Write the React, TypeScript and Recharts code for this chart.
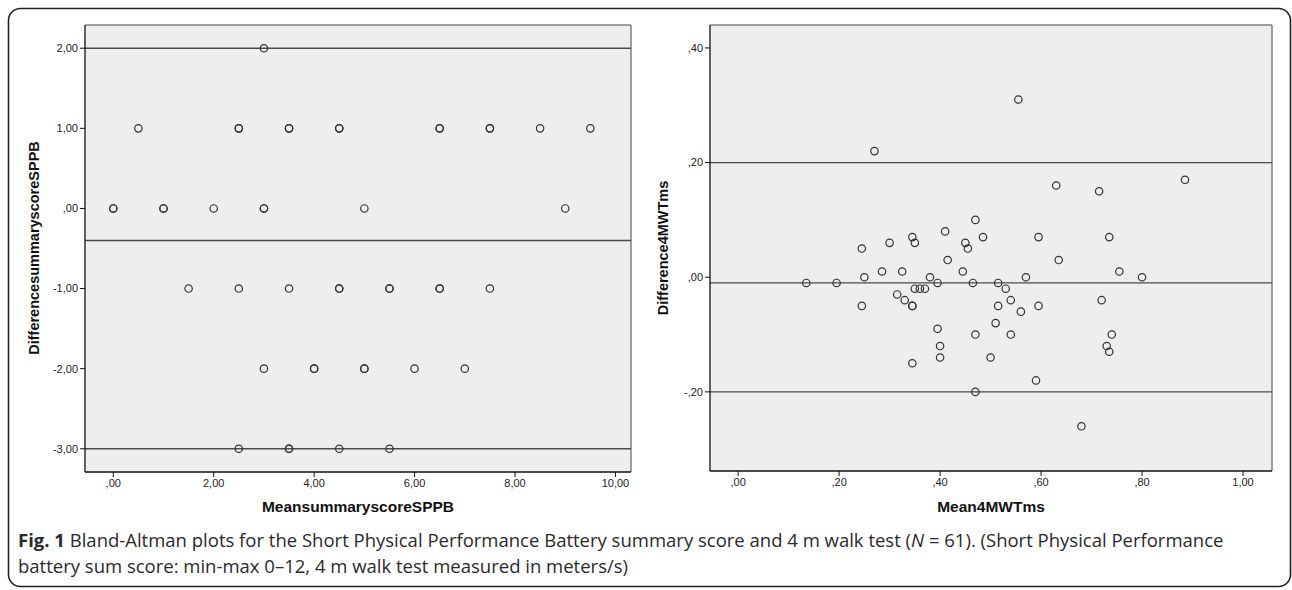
import React from "react";
import { ScatterChart, Scatter, XAxis, YAxis, CartesianGrid, ReferenceLine } from "recharts";

// ---- Left panel: SPPB summary score ----
const sppbMean = [
  3,
  0.5, 2.5, 2.5, 3.5, 3.5, 4.5, 4.5, 6.5, 6.5, 7.5, 7.5, 8.5, 9.5,
  0, 0, 1, 1, 2, 3, 3, 5, 9,
  1.5, 2.5, 3.5, 4.5, 4.5, 5.5, 5.5, 6.5, 6.5, 7.5,
  3, 4, 4, 5, 5, 6, 7,
  2.5, 3.5, 3.5, 4.5, 5.5,
];
const sppbDiff = [
  2,
  1, 1, 1, 1, 1, 1, 1, 1, 1, 1, 1, 1, 1,
  0, 0, 0, 0, 0, 0, 0, 0, 0,
  -1, -1, -1, -1, -1, -1, -1, -1, -1, -1,
  -2, -2, -2, -2, -2, -2, -2,
  -3, -3, -3, -3, -3,
];
const sppbLines = [2, -0.4, -3];
const sppbXTicks = [0, 2, 4, 6, 8, 10];
const sppbXLabels = [",00", "2,00", "4,00", "6,00", "8,00", "10,00"];
const sppbYTicks = [2, 1, 0, -1, -2, -3];
const sppbYLabels = ["2,00", "1,00", ",00", "-1,00", "-2,00", "-3,00"];
const sppbXDomain = [-0.563, 10.31];
const sppbYDomain = [-3.29, 2.29];

// ---- Right panel: 4 m walk test ----
const walkMean = [
  0.47, 0.41, 0.345, 0.485, 0.595, 0.735, 0.3, 0.35, 0.45, 0.245, 0.455, 0.415, 0.635,
  0.285, 0.325, 0.445, 0.755, 0.25, 0.38, 0.57, 0.8, 0.135, 0.195, 0.395, 0.465, 0.515,
  0.35, 0.36, 0.37, 0.53, 0.315, 0.33, 0.54, 0.72, 0.245, 0.345, 0.345, 0.515, 0.595,
  0.56, 0.51, 0.395, 0.47, 0.54, 0.74, 0.4, 0.73, 0.735, 0.4, 0.5, 0.345, 0.59, 0.47,
  0.555, 0.27, 0.63, 0.715, 0.885, 0.68,
];
const walkDiff = [
  0.1, 0.08, 0.07, 0.07, 0.07, 0.07, 0.06, 0.06, 0.06, 0.05, 0.05, 0.03, 0.03,
  0.01, 0.01, 0.01, 0.01, 0, 0, 0, 0, -0.01, -0.01, -0.01, -0.01, -0.01,
  -0.02, -0.02, -0.02, -0.02, -0.03, -0.04, -0.04, -0.04, -0.05, -0.05, -0.05, -0.05, -0.05,
  -0.06, -0.08, -0.09, -0.1, -0.1, -0.1, -0.12, -0.12, -0.13, -0.14, -0.14, -0.15, -0.18, -0.2,
  0.31, 0.22, 0.16, 0.15, 0.17, -0.26,
];
const walkLines = [0.2, -0.01, -0.2];
const walkXTicks = [0, 0.2, 0.4, 0.6, 0.8, 1];
const walkXLabels = [",00", ",20", ",40", ",60", ",80", "1,00"];
const walkYTicks = [0.4, 0.2, 0, -0.2];
const walkYLabels = [",40", ",20", ",00", "-,20"];
const walkXDomain = [-0.0557, 1.0574];
const walkYDomain = [-0.338, 0.44];

const captionBold = "Fig. 1";
const captionLine1a = " Bland-Altman plots for the Short Physical Performance Battery summary score and 4 m walk test (";
const captionLine1b = "N";
const captionLine1c = " = 61). (Short Physical Performance";
const captionLine2 = "battery sum score: min-max 0\u201312, 4 m walk test measured in meters/s)";

const sppbData = sppbMean.map((m, i) => ({ x: m, y: sppbDiff[i] }));
const walkData = walkMean.map((m, i) => ({ x: m, y: walkDiff[i] }));

const AXIS_FONT = "'Liberation Sans', Arial, sans-serif";

const Dot = (p: any) => (
  <circle cx={p.cx} cy={p.cy} r={3.7} fill="none" stroke="#333" strokeWidth={1.2} />
);

function Panel(props: {
  data: { x: number; y: number }[];
  width: number;
  height: number;
  margin: any;
  xDomain: number[];
  yDomain: number[];
  xTicks: number[];
  xLabels: string[];
  yTicks: number[];
  yLabels: string[];
  lines: number[];
}) {
  const { data, xDomain, yDomain, xTicks, xLabels, yTicks, yLabels, lines } = props;
  const tickStyle = { fontSize: 11, fill: "#222", fontFamily: AXIS_FONT };
  return (
    <ScatterChart width={props.width} height={props.height} margin={props.margin}>
      <CartesianGrid horizontal={false} vertical={false} fill="#eeeeee" />
      <XAxis
        type="number"
        dataKey="x"
        domain={xDomain}
        ticks={xTicks}
        allowDataOverflow
        height={30}
        tickSize={5}
        tick={tickStyle}
        tickFormatter={(v: number) => xLabels[xTicks.indexOf(v)]}
        axisLine={{ stroke: "#111", strokeWidth: 1.3 }}
        tickLine={{ stroke: "#111" }}
      />
      <YAxis
        type="number"
        dataKey="y"
        domain={yDomain}
        ticks={yTicks}
        allowDataOverflow
        width={60}
        tickSize={5}
        tick={tickStyle}
        tickFormatter={(v: number) => yLabels[yTicks.indexOf(v)]}
        axisLine={{ stroke: "#111", strokeWidth: 1.3 }}
        tickLine={{ stroke: "#111" }}
      />
      <ReferenceLine y={yDomain[1]} stroke="#808080" strokeWidth={1.5} ifOverflow="extendDomain" />
      <ReferenceLine x={xDomain[1]} stroke="#808080" strokeWidth={1.5} ifOverflow="extendDomain" />
      {lines.map((v) => (
        <ReferenceLine key={v} y={v} stroke="#4a4a4a" strokeWidth={1.3} />
      ))}
      <Scatter data={data} shape={Dot} isAnimationActive={false} />
    </ScatterChart>
  );
}

export default function App() {
  return (
    <div style={{ position: "absolute", left: 0, top: 0, width: 1292, height: 590, background: "#fff" }}>
      <svg width={1292} height={590} style={{ position: "absolute", left: 0, top: 0 }}>
        <rect x={8.5} y={8.5} width={1282} height={578} rx={12} ry={12} fill="none" stroke="#222" strokeWidth={1.6} />
      </svg>
      <div style={{ position: "absolute", left: 0, top: 0 }}>
        <Panel
          data={sppbData}
          width={660}
          height={530}
          margin={{ top: 25, right: 29, bottom: 28, left: 25 }}
          xDomain={sppbXDomain}
          yDomain={sppbYDomain}
          xTicks={sppbXTicks}
          xLabels={sppbXLabels}
          yTicks={sppbYTicks}
          yLabels={sppbYLabels}
          lines={sppbLines}
        />
      </div>
      <div style={{ position: "absolute", left: 640, top: 0 }}>
        <Panel
          data={walkData}
          width={652}
          height={530}
          margin={{ top: 25, right: 20, bottom: 29, left: 10 }}
          xDomain={walkXDomain}
          yDomain={walkYDomain}
          xTicks={walkXTicks}
          xLabels={walkXLabels}
          yTicks={walkYTicks}
          yLabels={walkYLabels}
          lines={walkLines}
        />
      </div>
      <svg width={1292} height={590} style={{ position: "absolute", left: 0, top: 0, pointerEvents: "none" }}>
        <g fontFamily={AXIS_FONT} fontWeight="bold" fill="#111">
          <text x={358} y={512} textAnchor="middle" fontSize={15.5}>MeansummaryscoreSPPB</text>
          <text x={991} y={512} textAnchor="middle" fontSize={15.5}>Mean4MWTms</text>
          <text transform="translate(39,248) rotate(-90)" textAnchor="middle" fontSize={14.5}>DifferencesummaryscoreSPPB</text>
          <text transform="translate(668,248) rotate(-90)" textAnchor="middle" fontSize={14.5}>Difference4MWTms</text>
        </g>
        <g fontFamily="'Open Sans', 'Noto Sans', sans-serif" fontSize={18.5} fill="#2a2a2a">
          <text x={18} y={547}>
            <tspan fontWeight="bold">{captionBold}</tspan>
            <tspan>{captionLine1a}</tspan>
            <tspan fontStyle="italic">{captionLine1b}</tspan>
            <tspan>{captionLine1c}</tspan>
          </text>
          <text x={18} y={573}>{captionLine2}</text>
        </g>
      </svg>
    </div>
  );
}
